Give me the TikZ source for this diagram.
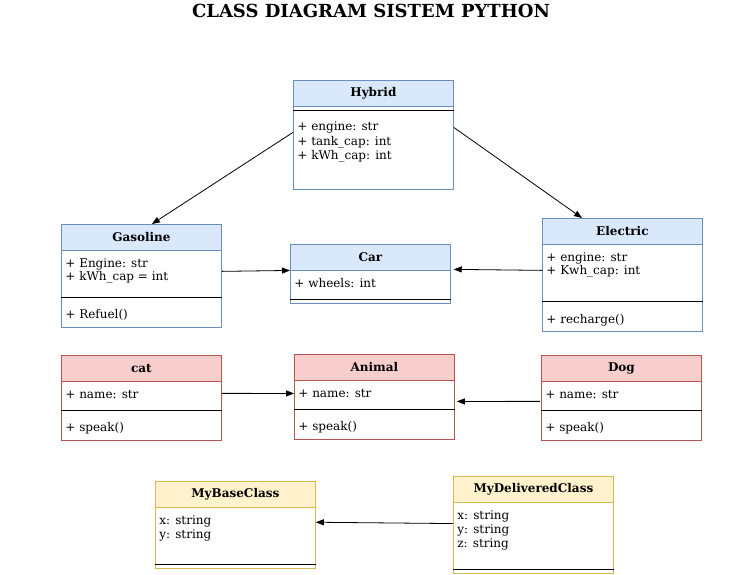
\documentclass[tikz,border=0pt]{standalone}
\usepackage{fontspec}
\setmainfont{DejaVu Serif}
\usetikzlibrary{arrows.meta}
\definecolor{blueFill}{HTML}{DAE8FC}
\definecolor{blueLine}{HTML}{6C8EBF}
\definecolor{redFill}{HTML}{F8CECC}
\definecolor{redLine}{HTML}{B85450}
\definecolor{yellowFill}{HTML}{FFF2CC}
\definecolor{yellowLine}{HTML}{D6B656}

\begin{document}
\begin{tikzpicture}[x=0.75pt, y=-0.75pt, font=\fontsize{9}{10.5}\selectfont, line width=0.6pt]
	\tikzstyle{classBox}=[draw, rectangle, anchor=north west, minimum width=120pt, inner sep=0pt]
	\tikzstyle{classHead}=[classBox, minimum height=19.5pt, font=\fontsize{9}{10.5}\selectfont\bfseries]
	\tikzstyle{blueBox}=[classBox, draw=blueLine]
	\tikzstyle{blueHead}=[classHead, draw=blueLine, fill=blueFill]
	\tikzstyle{redBox}=[classBox, draw=redLine]
	\tikzstyle{redHead}=[classHead, draw=redLine, fill=redFill]
	\tikzstyle{yellowBox}=[classBox, draw=yellowLine]
	\tikzstyle{yellowHead}=[classHead, draw=yellowLine, fill=yellowFill]
	\tikzstyle{member}=[anchor=base west, inner sep=0pt]
	\tikzstyle{divider}=[draw=black]
	\tikzstyle{inherit}=[draw=black, -{Triangle[length=6pt, width=4.5pt]}]

	\useasboundingbox (0,0) rectangle (741,574);
	\node[font=\fontsize{13.5}{16}\selectfont\bfseries] (title) at (371,11) {CLASS DIAGRAM SISTEM PYTHON};

	% Car hierarchy
	\node[blueBox, minimum height=81.75pt] (hyb) at (293,80) {};
	\node[blueHead] (hybHead) at (293,80) {Hybrid};
	\draw[divider] ([yshift=-22.5pt]hyb.north west) -- ([yshift=-22.5pt]hyb.north east);
	\node[member] (hybA1) at (297,131) {+ engine: str};
	\node[member] (hybA2) at (297,145) {+ tank\_cap: int};
	\node[member] (hybA3) at (297,159) {+ kWh\_cap: int};

	\node[blueBox, minimum height=77.25pt] (gas) at (61,224) {};
	\node[blueHead] (gasHead) at (61,224) {Gasoline};
	\draw[divider] ([yshift=-54.75pt]gas.north west) -- ([yshift=-54.75pt]gas.north east);
	\node[member] (gasA1) at (65,267) {+ Engine: str};
	\node[member] (gasA2) at (65,280) {+ kWh\_cap = int};
	\node[member] (gasM1) at (65,318) {+ Refuel()};

	\node[blueBox, minimum height=44.25pt] (car) at (290,244) {};
	\node[blueHead] (carHead) at (290,244) {Car};
	\draw[divider] ([yshift=-41.25pt]car.north west) -- ([yshift=-41.25pt]car.north east);
	\node[member] (carA1) at (294,287) {+ wheels: int};

	\node[blueBox, minimum height=84.75pt] (ele) at (542,218) {};
	\node[blueHead] (eleHead) at (542,218) {Electric};
	\draw[divider] ([yshift=-62.25pt]ele.north west) -- ([yshift=-62.25pt]ele.north east);
	\node[member] (eleA1) at (546,261) {+ engine: str};
	\node[member] (eleA2) at (546,274) {+ Kwh\_cap: int};
	\node[member] (eleM1) at (546,323) {+ recharge()};

	% Animal hierarchy
	\node[redBox, minimum height=63.75pt] (cat) at (61,355) {};
	\node[redHead] (catHead) at (61,355) {cat};
	\draw[divider] ([yshift=-41.25pt]cat.north west) -- ([yshift=-41.25pt]cat.north east);
	\node[member] (catA1) at (65,398) {+ name: str};
	\node[member] (catM1) at (65,431) {+ speak()};

	\node[redBox, minimum height=63.75pt] (ani) at (294,354) {};
	\node[redHead] (aniHead) at (294,354) {Animal};
	\draw[divider] ([yshift=-41.25pt]ani.north west) -- ([yshift=-41.25pt]ani.north east);
	\node[member] (aniA1) at (298,397) {+ name: str};
	\node[member] (aniM1) at (298,430) {+ speak()};

	\node[redBox, minimum height=63.75pt] (dog) at (541,355) {};
	\node[redHead] (dogHead) at (541,355) {Dog};
	\draw[divider] ([yshift=-41.25pt]dog.north west) -- ([yshift=-41.25pt]dog.north east);
	\node[member] (dogA1) at (545,398) {+ name: str};
	\node[member] (dogM1) at (545,431) {+ speak()};

	% Base / delivered
	\node[yellowBox, minimum height=65.25pt] (base) at (155,481) {};
	\node[yellowHead] (baseHead) at (155,481) {MyBaseClass};
	\draw[divider] ([yshift=-62.25pt]base.north west) -- ([yshift=-62.25pt]base.north east);
	\node[member] (baseA1) at (159,524) {x: string};
	\node[member] (baseA2) at (159,538) {y: string};

	\node[yellowBox, minimum height=72.75pt] (deli) at (453,476) {};
	\node[yellowHead] (deliHead) at (453,476) {MyDeliveredClass};
	\draw[divider] ([yshift=-69.75pt]deli.north west) -- ([yshift=-69.75pt]deli.north east);
	\node[member] (deliA1) at (457,519) {x: string};
	\node[member] (deliA2) at (457,533) {y: string};
	\node[member] (deliA3) at (457,547) {z: string};

	% Inheritance arrows
	\draw[inherit] ([yshift=1.9pt]hyb.west) -- ([xshift=7.9pt]gas.north);
	\draw[inherit] ([yshift=5.6pt]hyb.east) -- ([xshift=30pt]ele.north west);
	\draw[inherit] ([yshift=3.4pt]gas.east) -- ([yshift=2.6pt]car.west);
	\draw[inherit] ([yshift=3.4pt]ele.west) -- ([xshift=2.2pt, yshift=3.4pt]car.east);
	\draw[inherit] ([yshift=3.4pt]cat.east) -- ([yshift=2.6pt]ani.west);
	\draw[inherit] ([xshift=-0.8pt, yshift=-2.6pt]dog.west) -- ([xshift=1.5pt, yshift=-3.4pt]ani.east);
	\draw[inherit] ([yshift=1pt]deli.west) -- ([yshift=2pt]base.east);
\end{tikzpicture}
\end{document}
